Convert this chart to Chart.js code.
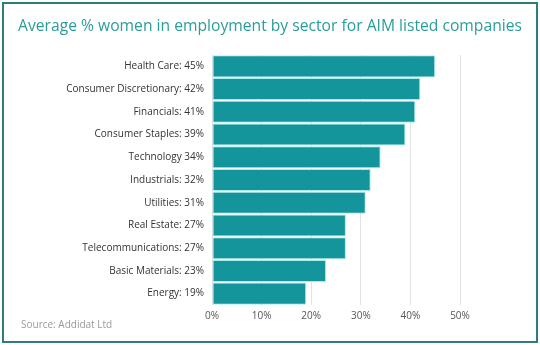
<!DOCTYPE html>
<html>
<head>
<meta charset="utf-8">
<script src="https://cdn.jsdelivr.net/npm/chart.js@4"></script>
<style>
  html, body { margin: 0; padding: 0; background: #fff; }
  #wrap { position: relative; width: 540px; height: 345px; }
  #frame { position: absolute; left: 2px; top: 2px; width: 532px; height: 337px; border: 2px solid #2b7d82; box-sizing: content-box; pointer-events: none; }
  canvas { position: absolute; left: 0; top: 0; }
</style>
</head>
<body>
<div id="wrap">
  <canvas id="c" width="540" height="345"></canvas>
  <div id="frame"></div>
</div>
<script>
// Sector labels and average share of women in employment (%)
const sectors = [
  'Health Care: 45%',
  'Consumer Discretionary: 42%',
  'Financials: 41%',
  'Consumer Staples: 39%',
  'Technology 34%',
  'Industrials: 32%',
  'Utilities: 31%',
  'Real Estate: 27%',
  'Telecommunications: 27%',
  'Basic Materials: 23%',
  'Energy: 19%'
];
const womenShare = [45, 42, 41, 39, 34, 32, 31, 27, 27, 23, 19];
const xTicks = [0, 10, 20, 30, 40, 50];

const titleText = 'Average % women in employment by sector for AIM listed companies';
const sourceText = 'Source: Addidat Ltd';

// Heading across the full canvas width plus the source line under the axis
const headerFooter = {
  id: 'headerFooter',
  afterDraw(chart) {
    const ctx = chart.ctx;
    const w = chart.width;
    ctx.save();
    // fit the heading to a fixed span
    let size = 17;
    ctx.font = size + 'px "Open Sans", sans-serif';
    const span = 504;
    size = size * span / ctx.measureText(titleText).width;
    ctx.font = size + 'px "Open Sans", sans-serif';
    ctx.fillStyle = '#2a9d9b';
    ctx.textAlign = 'center';
    ctx.textBaseline = 'middle';
    ctx.fillText(titleText, w / 2, 27);

    ctx.font = '10px "Open Sans", sans-serif';
    ctx.fillStyle = '#9a9a9a';
    ctx.textAlign = 'left';
    ctx.fillText(sourceText, 21, 325);
    ctx.restore();
  }
};

new Chart(document.getElementById('c'), {
  type: 'bar',
  data: {
    labels: sectors,
    datasets: [{
      data: womenShare,
      backgroundColor: '#13959b',
      borderColor: '#a9ecec',
      borderWidth: 1,
      borderSkipped: false,
      barPercentage: 1.0,
      categoryPercentage: 0.97
    }]
  },
  options: {
    indexAxis: 'y',
    responsive: false,
    animation: false,
    layout: { padding: { left: 0, right: 80, top: 55, bottom: 0 } },
    plugins: {
      legend: { display: false },
      tooltip: { enabled: false },
      title: { display: false }
    },
    scales: {
      x: {
        min: 0,
        max: 50,
        afterBuildTicks(scale) { scale.ticks = xTicks.map(v => ({ value: v })); },
        afterFit(scale) { scale.height = 40; },
        grid: { color: '#e2e2e2', lineWidth: 1, drawTicks: false },
        border: { display: false },
        ticks: {
          padding: 5,
          color: '#555',
          font: { family: 'Open Sans', size: 10 },
          callback: v => v + '%'
        }
      },
      y: {
        afterFit(scale) { scale.width = 212; },
        grid: { display: false, drawTicks: false },
        border: { display: false },
        ticks: {
          padding: 8,
          color: '#333',
          font: { family: 'Open Sans', size: 10 }
        }
      }
    }
  },
  plugins: [headerFooter]
});
</script>
</body>
</html>
